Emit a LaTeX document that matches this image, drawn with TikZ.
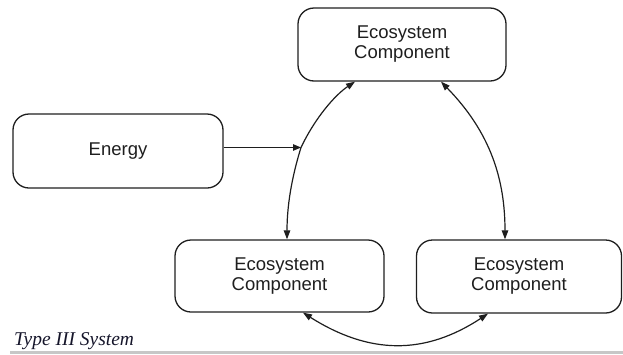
\documentclass[tikz,border=0pt]{standalone}
\usepackage{fontspec}
\setmainfont{Liberation Sans}
\newfontfamily\capfont{Liberation Serif}
\usetikzlibrary{arrows.meta}
\definecolor{linec}{HTML}{1E1E1E}
\definecolor{capc}{HTML}{15152A}
\tikzset{
  box/.style={draw=linec, line width=1.3pt, rounded corners=16pt, align=center,
    inner sep=0pt, font=\fontsize{18.5}{20}\selectfont, text=linec},
  conn/.style={draw=linec, line width=1.2pt, {Triangle[length=9pt,width=6.5pt]}-{Triangle[length=9pt,width=6.5pt]}},
  oneway/.style={draw=linec, line width=1.2pt, -{Triangle[length=8pt,width=6.5pt]}}
}
\begin{document}
\begin{tikzpicture}[x=1pt,y=-1pt]
\useasboundingbox (0,0) rectangle (623,354);
% nodes
\node[box, minimum width=208pt, minimum height=73pt] (top) at (402,44.5) {Ecosystem\\Component};
\node[box, minimum width=210pt, minimum height=74pt] (en) at (118,151) {Energy};
\node[box, minimum width=209pt, minimum height=72pt] (bl) at (279.5,276) {Ecosystem\\Component};
\node[box, minimum width=205pt, minimum height=73pt] (br) at (519,276.5) {Ecosystem\\Component};
\coordinate (J) at (301,147.5);
% connectors
\draw[conn] ([xshift=-47pt]top.south) .. controls (335,95) and (315,118) .. (J)
   .. controls (294,170) and (287,200) .. ([xshift=7.5pt]bl.north);
\draw[conn] ([xshift=39pt]top.south) .. controls (491,133) and (505,180) .. ([xshift=-14pt]br.north);
\draw[conn] ([xshift=23.5pt]bl.south) .. controls (370,355) and (425,355) .. ([xshift=-31pt]br.south);
\draw[oneway] (J -| en.east) -- (J);
% caption
\node[anchor=base west, inner sep=0pt, text=capc, font=\capfont\itshape\fontsize{19.5}{22}\selectfont] (cap) at (14,345) {Type III System};
\fill[black!22] (10,350.5) rectangle (623,354);
\end{tikzpicture}
\end{document}
